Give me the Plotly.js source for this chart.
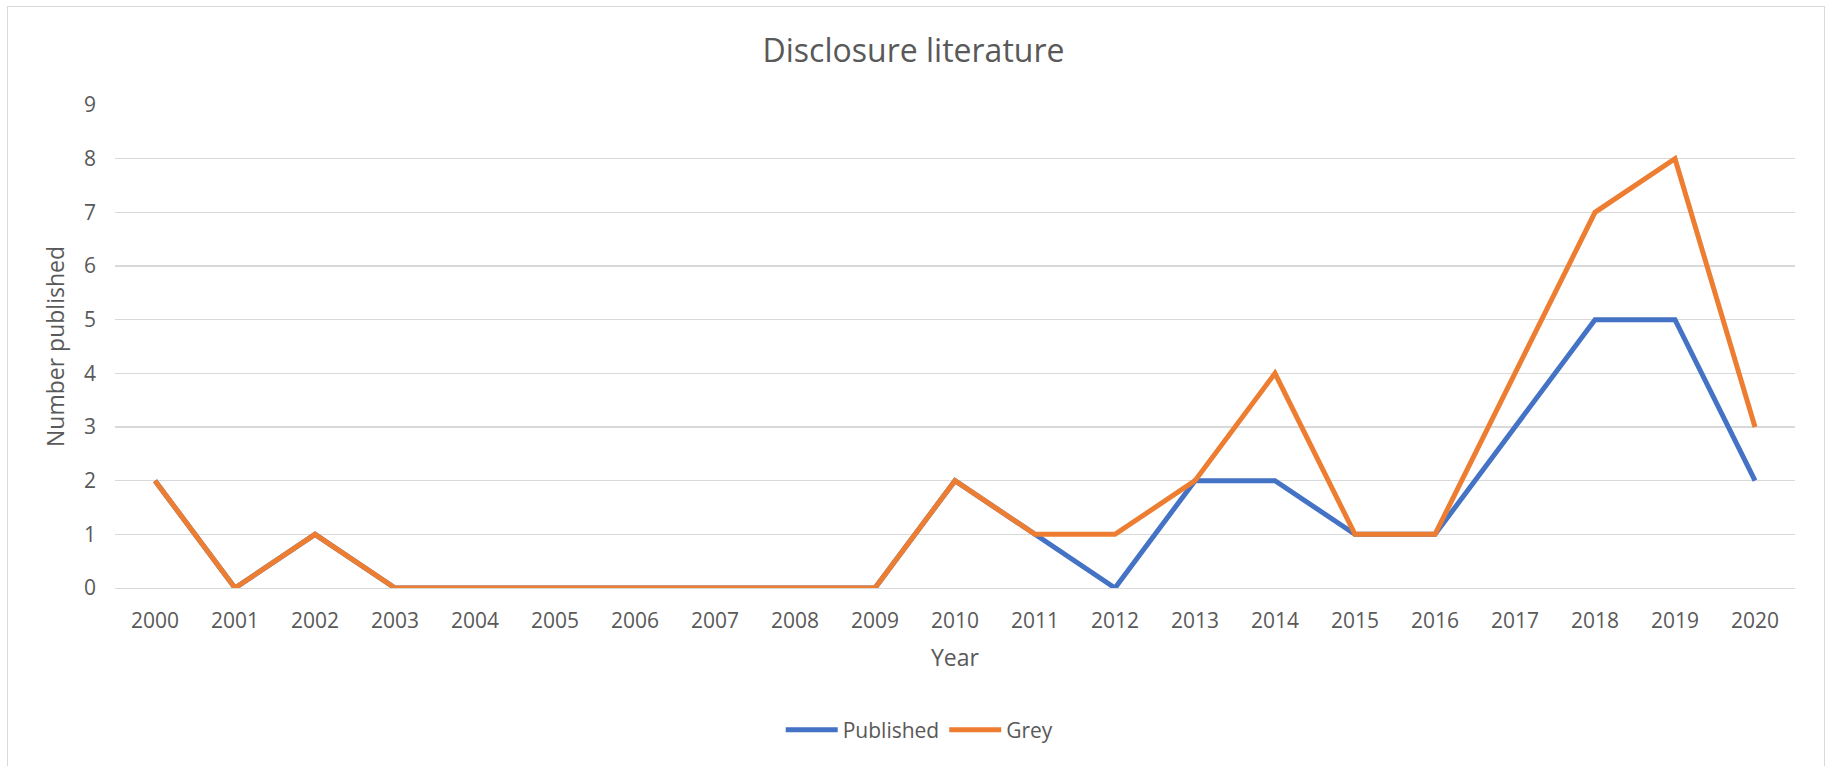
<!DOCTYPE html>
<html>
<head>
<meta charset="utf-8">
<script src="https://cdn.plot.ly/plotly-3.0.1.min.js"></script>
<style>
html,body{margin:0;padding:0;background:#fff;}
#wrap{position:relative;width:1827px;height:766px;}
#chart{width:1827px;height:766px;}
#frame{position:absolute;left:7px;top:6px;width:1818px;height:780px;border:1px solid #D9D9D9;pointer-events:none;box-sizing:border-box;}
</style>
</head>
<body>
<div id="wrap"><div id="chart"></div><div id="frame"></div></div>
<script>
const years = ["2000","2001","2002","2003","2004","2005","2006","2007","2008","2009","2010","2011","2012","2013","2014","2015","2016","2017","2018","2019","2020"];
const published = [2,0,1,0,0,0,0,0,0,0,2,1,0,2,2,1,1,3,5,5,2];
const grey      = [2,0,1,0,0,0,0,0,0,0,2,1,1,2,4,1,1,4,7,8,3];
const seriesNames = ["Published","Grey"];
const chartTitle = "Disclosure literature";
const xTitle = "Year";
const yTitle = "Number published";

const txt = "#595959";
const traces = [
  {x: years, y: published, name: seriesNames[0], type: "scatter", mode: "lines",
   line: {color: "#4472C4", width: 5}},
  {x: years, y: grey, name: seriesNames[1], type: "scatter", mode: "lines",
   line: {color: "#ED7D31", width: 5}}
];
const layout = {
  width: 1827, height: 766,
  paper_bgcolor: "#fff", plot_bgcolor: "#fff",
  font: {family: "Open Sans, sans-serif", color: txt, size: 21},
  margin: {l: 115, r: 32, t: 105, b: 178},
  title: {text: chartTitle, font: {size: 32, color: txt}, x: 0.5, xanchor: "center", y: 1 - 51/766, yanchor: "middle", xref: "container", yref: "container"},
  xaxis: {
    type: "category", range: [-0.5, 20.5], showgrid: false, zeroline: false,
    showline: true, linecolor: "#D9D9D9", linewidth: 1,
    ticks: "", tickfont: {size: 21, color: txt}, ticklabelstandoff: 14,
    title: {text: xTitle, font: {size: 23, color: txt}, standoff: 16}
  },
  yaxis: {
    range: [0, 9], dtick: 1, showgrid: true, gridcolor: "#D9D9D9", gridwidth: 1.5,
    zeroline: false, showline: false, ticks: "", tickfont: {size: 21, color: txt},
    ticklabelstandoff: 18,
    title: {text: yTitle, font: {size: 23, color: txt}, standoff: 12}
  },
  legend: {orientation: "h", x: 0.479, xanchor: "center", y: (588-730)/483, yanchor: "middle",
    font: {size: 21, color: txt}, itemwidth: 52, bgcolor: "rgba(0,0,0,0)"},
  showlegend: true
};
Plotly.newPlot("chart", traces, layout, {displayModeBar: false, staticPlot: true});
</script>
</body>
</html>
